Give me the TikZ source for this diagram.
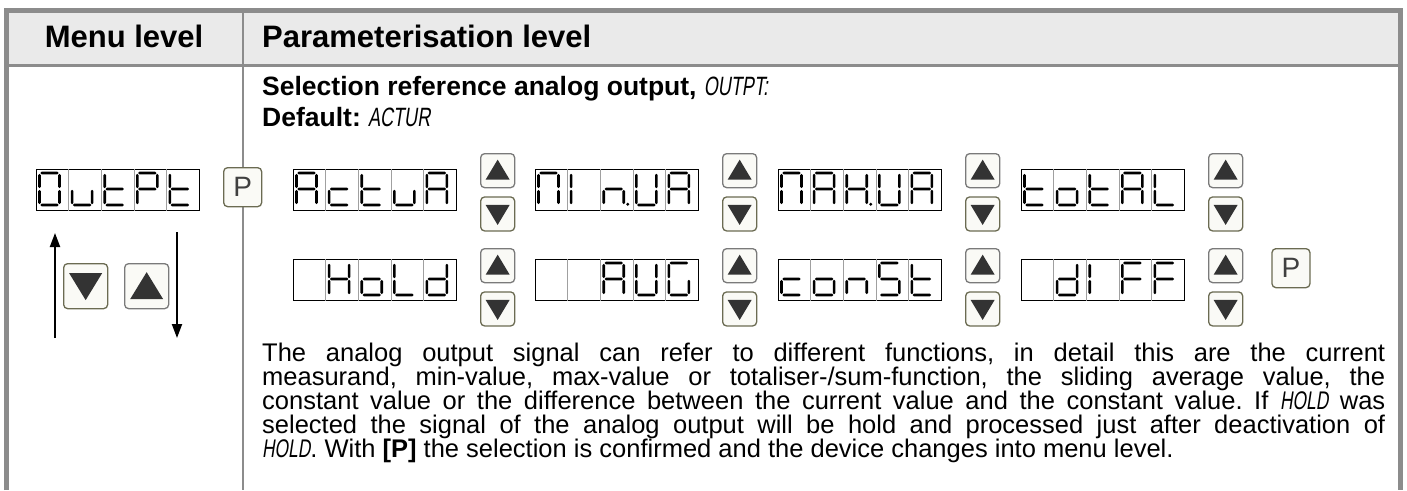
\documentclass[tikz,border=0pt]{standalone}
\usepackage{fontspec}
\setmainfont{Liberation Sans}
\newfontfamily\lcdfont[FakeSlant=0.15,FakeStretch=0.68]{Liberation Sans}
\usetikzlibrary{positioning,calc,arrows.meta}
\definecolor{framegray}{HTML}{8C8C8C}
\definecolor{headfill}{HTML}{EAEAEA}
\definecolor{keyedge}{HTML}{6B6B52}
\definecolor{upedge}{HTML}{7A7A7A}
\definecolor{keyfill}{HTML}{FAFAF6}
\definecolor{keytri}{HTML}{333333}
\definecolor{cellgray}{HTML}{A0A0A0}
\tikzstyle{flow} = [-{Triangle[length=14pt,width=10pt]}, line width=2pt, black]
\frenchspacing

% tapered segments: \hseg{x1}{x2}{y}, \vseg{x}{y1}{y2}
\newcommand{\hseg}[3]{\fill (#1,#3) -- (#1+1.3,#3-1.3) -- (#2-1.3,#3-1.3) -- (#2,#3) -- (#2-1.3,#3+1.3) -- (#1+1.3,#3+1.3) -- cycle;}
\newcommand{\vseg}[3]{\fill (#1,#2) -- (#1+1.3,#2+1.3) -- (#1+1.3,#3-1.3) -- (#1,#3) -- (#1-1.3,#3-1.3) -- (#1-1.3,#2+1.3) -- cycle;}

% segments of one display cell, origin at the glyph baseline
\tikzset{
  pics/seg-a/.style={code={\hseg{4.3}{22.7}{-32}}},
  pics/seg-b/.style={code={\vseg{23.5}{-31.2}{-16.8}}},
  pics/seg-c/.style={code={\vseg{23.5}{-15.2}{-0.8}}},
  pics/seg-d/.style={code={\hseg{4.3}{22.7}{0}}},
  pics/seg-e/.style={code={\vseg{3.5}{-15.2}{-0.8}}},
  pics/seg-f/.style={code={\vseg{3.5}{-31.2}{-16.8}}},
  pics/seg-g/.style={code={\hseg{4.3}{22.7}{-16}}},
  pics/seg-p/.style={code={\fill (27.5,-0.8) circle (1.6pt);}},
  pics/seg-x/.style={code={}}
}

\newcommand{\lcdword}[4]{%
  \node[lcdbox] (#1) at (#2,#3) {};
  \foreach \k in {1,...,4}
    \draw[cellgray, line width=0.6pt] ($(#1.north west)+(32.6*\k,0)$) -- ($(#1.south west)+(32.6*\k,0)$);
  \foreach \cell [count=\i from 0] in {#4} {
    \begin{scope}[shift={($(#1.north west)+(32.6*\i,36)$)}, xslant=0.17]
      \foreach \s in \cell {\pic {seg-\s};}
    \end{scope}
  }
}

\newcommand{\updown}[3]{%
  \node[upkey, anchor=north west] (#1-up) at (#2,#3) {};
  \node[dnkey, below=8pt of #1-up] (#1-dn) {};
  \fill[keytri] ($(#1-up.center)+(-12,9)$) -- ($(#1-up.center)+(12,9)$) -- ($(#1-up.center)+(0,-11)$) -- cycle;
  \fill[keytri] ($(#1-dn.center)+(-12,-9)$) -- ($(#1-dn.center)+(12,-9)$) -- ($(#1-dn.center)+(0,11)$) -- cycle;
}

\begin{document}
\begin{tikzpicture}[x=1pt, y=-1pt,
  lcdbox/.style={rectangle, draw=black, line width=0.9pt, minimum width=163pt, minimum height=41pt, inner sep=0, anchor=north west},
  keybox/.style={rectangle, line width=1.3pt, fill=keyfill, rounded corners=4pt, minimum width=34pt, minimum height=34pt, inner sep=0},
  upkey/.style={keybox, draw=upedge},
  dnkey/.style={keybox, draw=keyedge},
  pkey/.style={keybox, draw=keyedge, anchor=north west, minimum width=38pt, minimum height=39pt, font=\fontsize{28}{28}\selectfont, text=black!75},
  bigkey/.style={keybox, anchor=north west, minimum width=44pt, minimum height=45pt},
  headtext/.style={font=\fontsize{31}{36}\selectfont\bfseries, inner sep=0, anchor=base},
  bodytext/.style={font=\fontsize{26.5}{31}\selectfont, inner sep=0, anchor=base west}]

\useasboundingbox (0,0) rectangle (1407,490);

% table frame
\fill[headfill] (8.5,12.5) rectangle (1397.5,64);
\draw[framegray, line width=5pt] (6,490) -- (6,10) -- (1400,10) -- (1400,490);
\draw[framegray, line width=3pt] (8.5,65.5) -- (1397.5,65.5);
\draw[framegray, line width=2.5pt] (243,12.5) -- (243,490);

\node[headtext] (menuhead) at (124,47.5) {Menu level};
\node[headtext, anchor=base west] (parahead) at (262,47.5) {Parameterisation level};

\node[bodytext] (select) at (262,95) {\textbf{Selection reference analog output,} {\lcdfont OUTPT:}};
\node[bodytext] (deflt) at (262,126) {\textbf{Default:} {\lcdfont ACTUR}};

% menu level
\lcdword{outpt}{36}{169}{{a,b,c,d,e,f},{c,d,e},{d,e,f,g},{a,b,e,f,g},{d,e,f,g}}
\node[pkey] (p-menu) at (223,167) {P};
\node[bigkey, draw=keyedge] (menu-dn) at (63,263) {};
\node[bigkey, draw=upedge] (menu-up) at (124,263) {};
\fill[keytri] ($(menu-dn.center)+(-16.5,-13)$) -- ($(menu-dn.center)+(16.5,-13)$) -- ($(menu-dn.center)+(0,14)$) -- cycle;
\fill[keytri] ($(menu-up.center)+(-16.5,13)$) -- ($(menu-up.center)+(16.5,13)$) -- ($(menu-up.center)+(0,-14)$) -- cycle;
\coordinate (upfoot) at (55,338);
\coordinate (uptip) at (55,233);
\coordinate (dnstart) at (177,232);
\coordinate (dnfoot) at (177,338);
\draw[flow] (upfoot) -- (uptip);
\draw[flow] (dnstart) -- (dnfoot);

% first row of choices
\lcdword{actua}{293}{169}{{a,b,c,e,f,g},{d,e,g},{d,e,f,g},{c,d,e},{a,b,c,e,f,g}}
\updown{k1}{480}{153}
\lcdword{minua}{535}{169}{{a,b,c,e,f},{e,f},{c,e,g,p},{b,c,d,e,f},{a,b,c,e,f,g}}
\updown{k2}{722}{153}
\lcdword{maxua}{778}{169}{{a,b,c,e,f},{a,b,c,e,f,g},{b,c,e,f,g,p},{b,c,d,e,f},{a,b,c,e,f,g}}
\updown{k3}{965}{153}
\lcdword{total}{1021}{169}{{d,e,f,g},{c,d,e,g},{d,e,f,g},{a,b,c,e,f,g},{d,e,f}}
\updown{k4}{1208}{153}

% second row of choices
\lcdword{hold}{293}{259}{{x},{b,c,e,f,g},{c,d,e,g},{d,e,f},{b,c,d,e,g}}
\updown{k5}{480}{248}
\lcdword{avg}{535}{259}{{x},{x},{a,b,c,e,f,g},{b,c,d,e,f},{a,c,d,e,f}}
\updown{k6}{722}{248}
\lcdword{const}{778}{259}{{d,e,g},{c,d,e,g},{c,e,g},{a,c,d,f,g},{d,e,f,g}}
\updown{k7}{965}{248}
\lcdword{diff}{1021}{259}{{x},{b,c,d,e,g},{e,f},{a,e,f,g},{a,e,f,g}}
\updown{k8}{1208}{248}
\node[pkey, right=28pt of k8-up.north east, anchor=north west] (p-end) {P};

% description
\node[bodytext, font=\fontsize{25.5}{24}\selectfont] (desc) at (262,361) {\vtop{\hsize=1123pt\parindent=0pt\lineskiplimit=-\maxdimen\baselineskip=24pt
\makebox[\hsize][s]{The analog output signal can refer to different functions, in detail this are the current}\par
\makebox[\hsize][s]{measurand, min-value, max-value or totaliser-/sum-function, the sliding average value, the}\par
\makebox[\hsize][s]{constant value or the difference between the current value and the constant value. If {\lcdfont HOLD} was}\par
\makebox[\hsize][s]{selected the signal of the analog output will be hold and processed just after deactivation of}\par
\makebox[\hsize][l]{{\lcdfont HOLD}. With \textbf{[P]} the selection is confirmed and the device changes into menu level.}}};
\end{tikzpicture}
\end{document}
